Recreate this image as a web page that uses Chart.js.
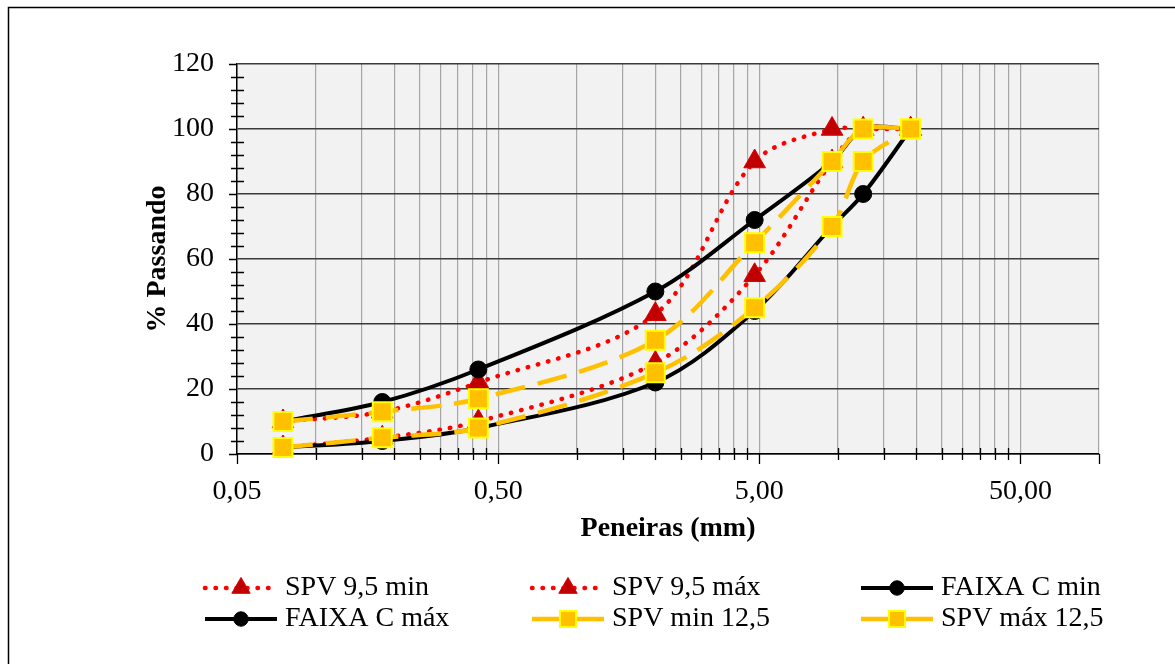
<!DOCTYPE html>
<html>
<head>
<meta charset="utf-8">
<script src="https://cdn.jsdelivr.net/npm/chart.js@4.4.1/dist/chart.umd.min.js"></script>
<style>
  html, body { margin: 0; padding: 0; background: #ffffff; }
  #wrap { width: 1175px; height: 664px; position: relative; }
</style>
</head>
<body>
<div id="wrap"><canvas id="c" width="1175" height="664"></canvas></div>
<script>
// Sieve openings (mm)
const sieves = [0.075, 0.18, 0.42, 2.0, 4.8, 9.5, 12.5, 19];

// % passing for each grading envelope
const spv95Min  = [2, 5, 10, 28, 55, 90, 100, 100];
const spv95Max  = [10, 13, 22, 43, 90, 100, 100, 100];
const faixaCMin = [2, 4, 8, 22, 44, 70, 80, 100];
const faixaCMax = [10, 16, 26, 50, 72, 90, 100, 100];
const spv125Min = [2, 5, 8, 25, 45, 70, 90, 100];
const spv125Max = [10, 13, 17, 35, 65, 90, 100, 100];

const seriesNames = ['SPV 9,5 min', 'SPV 9,5 máx', 'FAIXA C min', 'FAIXA C máx', 'SPV min 12,5', 'SPV máx 12,5'];

// Axis ticks
const xMajorTicks = [0.05, 0.5, 5, 50];
const xTickLabels = ['0,05', '0,50', '5,00', '50,00'];
const xMin = 0.05, xMax = 100;
const yTicks = [0, 20, 40, 60, 80, 100, 120];
const yMinorStep = 4;

// Log grid: k * decade start for k = 1..9
const xGridValues = [];
xMajorTicks.forEach(d => {
  for (let k = 1; k <= 9; k++) {
    const v = Math.round(d * k * 10000) / 10000;
    if (v <= xMax + 1e-9) xGridValues.push(v);
  }
});

const FONT = "'Liberation Serif', 'Times New Roman', serif";
Chart.defaults.font.family = FONT;
Chart.defaults.color = '#000';

const pts = vals => sieves.map((s, i) => ({ x: s, y: vals[i] }));

const redDots = {
  borderColor: '#FF0000', borderWidth: 4.5, borderDash: [0.5, 10], borderCapStyle: 'round',
  pointStyle: 'triangle', pointRadius: 12.5, pointBackgroundColor: '#C00000',
  pointBorderColor: '#E00000', pointBorderWidth: 1
};
const blackSolid = {
  borderColor: '#000000', borderWidth: 4, borderDash: [],
  pointStyle: 'circle', pointRadius: 8.5, pointBackgroundColor: '#000000',
  pointBorderColor: '#000000', pointBorderWidth: 1
};
const yellowDash = {
  borderColor: '#FFC000', borderWidth: 4.5, borderDash: [30, 13], borderCapStyle: 'butt',
  pointStyle: 'rect', pointRadius: 13.4, pointBackgroundColor: '#FFC000',
  pointBorderColor: '#FFFF00', pointBorderWidth: 2
};

const seriesValues = [spv95Min, spv95Max, faixaCMin, faixaCMax, spv125Min, spv125Max];
const seriesStyles = [redDots, redDots, blackSolid, blackSolid, yellowDash, yellowDash];

const datasets = seriesValues.map((vals, i) => Object.assign({
  label: seriesNames[i],
  data: pts(vals),
  tension: 0.33,
  fill: false,
  clip: 20,
  order: seriesValues.length - i   // later series drawn on top
}, seriesStyles[i]));

// Plot background and outer frame
const framePlugin = {
  id: 'frame',
  beforeDraw(chart) {
    const { ctx, chartArea: a } = chart;
    ctx.save();
    ctx.fillStyle = '#ffffff';
    ctx.fillRect(0, 0, chart.width, chart.height);
    ctx.fillStyle = '#F2F2F2';
    ctx.fillRect(a.left, a.top, a.right - a.left, a.bottom - a.top);
    ctx.strokeStyle = '#000';
    ctx.lineWidth = 1.5;
    ctx.strokeRect(8.5, 7.5, chart.width + 20, chart.height + 20);
    ctx.restore();
  }
};

// Axis tick marks: outside major ticks, crossing minor ticks
const tickMarksPlugin = {
  id: 'tickMarks',
  beforeDatasetsDraw(chart) {
    const { ctx, chartArea: a, scales: { x, y } } = chart;
    ctx.save();
    ctx.strokeStyle = '#000';
    ctx.lineWidth = 1.3;
    ctx.beginPath();
    for (let v = 0; v <= 120; v += yMinorStep) {
      const py = Math.round(y.getPixelForValue(v)) + 0.5;
      if (v % 20 === 0) { ctx.moveTo(a.left - 8, py); ctx.lineTo(a.left, py); }
      else { ctx.moveTo(a.left - 6, py); ctx.lineTo(a.left + 7, py); }
    }
    xGridValues.forEach(v => {
      const px = Math.round(x.getPixelForValue(v)) + 0.5;
      const major = xMajorTicks.some(m => Math.abs(m - v) < 1e-9) || Math.abs(v - xMax) < 1e-9;
      if (major) { ctx.moveTo(px, a.bottom); ctx.lineTo(px, a.bottom + 10); }
      else { ctx.moveTo(px, a.bottom - 6); ctx.lineTo(px, a.bottom + 6); }
    });
    ctx.stroke();
    ctx.restore();
  }
};

// Legend: three columns, two rows, line sample with marker
const legendCols = [205, 532, 861];
const legendRows = [588, 619];
const legendPlugin = {
  id: 'sampleLegend',
  afterDraw(chart) {
    const { ctx } = chart;
    const sampleLen = 72;
    chart.data.datasets.forEach((ds, i) => {
      const x0 = legendCols[i % 3];
      const yy = legendRows[Math.floor(i / 3)];
      ctx.save();
      ctx.strokeStyle = ds.borderColor;
      ctx.lineWidth = ds.borderWidth;
      ctx.setLineDash(ds.borderDash || []);
      ctx.lineCap = ds.borderCapStyle || 'butt';
      ctx.beginPath();
      ctx.moveTo(x0, yy);
      ctx.lineTo(x0 + sampleLen, yy);
      ctx.stroke();
      ctx.setLineDash([]);
      ctx.lineCap = 'butt';
      ctx.fillStyle = ds.pointBackgroundColor;
      ctx.strokeStyle = ds.pointBorderColor;
      ctx.lineWidth = ds.pointBorderWidth;
      Chart.helpers.drawPoint(ctx, {
        pointStyle: ds.pointStyle, rotation: 0,
        radius: ds.pointRadius * 0.85, borderWidth: ds.pointBorderWidth
      }, x0 + sampleLen / 2, yy);
      ctx.fillStyle = '#000';
      ctx.font = '28px ' + FONT;
      ctx.textBaseline = 'middle';
      ctx.textAlign = 'left';
      ctx.fillText(ds.label, x0 + sampleLen + 8, yy);
      ctx.restore();
    });
  }
};

new Chart(document.getElementById('c'), {
  type: 'line',
  data: { datasets },
  plugins: [framePlugin, tickMarksPlugin, legendPlugin],
  options: {
    responsive: false,
    animation: false,
    events: [],
    layout: { padding: { left: 130, right: 76, top: 64, bottom: 110 } },
    plugins: { legend: { display: false }, tooltip: { enabled: false } },
    scales: {
      x: {
        type: 'logarithmic',
        min: xMin, max: xMax,
        afterBuildTicks(scale) { scale.ticks = xGridValues.map(v => ({ value: v })); },
        afterFit(scale) { scale.height = 100; },
        ticks: {
          autoSkip: false, maxRotation: 0, minRotation: 0, padding: 21,
          color: '#000', font: { size: 28 },
          callback(value) {
            const i = xMajorTicks.findIndex(m => Math.abs(m - value) < 1e-9);
            return i >= 0 ? xTickLabels[i] : '';
          }
        },
        grid: { color: '#A6A6A6', lineWidth: 1.2, drawTicks: false },
        border: { color: '#000', width: 1.5 },
        title: {
          display: true, text: 'Peneiras (mm)', color: '#000',
          font: { size: 28, weight: 'bold' }, padding: { top: 0, bottom: 8 }
        }
      },
      y: {
        type: 'linear',
        min: 0, max: 120,
        afterBuildTicks(scale) { scale.ticks = yTicks.map(v => ({ value: v })); },
        afterFit(scale) { scale.width = 107; },
        ticks: { padding: 23, color: '#000', font: { size: 28 } },
        grid: { color: '#3A3A3A', lineWidth: 1.5, drawTicks: false },
        border: { color: '#000', width: 1.5 },
        title: {
          display: true, text: '% Passando', color: '#000',
          font: { size: 28, weight: 'bold' }, padding: { top: 11, bottom: 0 }
        }
      }
    }
  }
});
</script>
</body>
</html>
